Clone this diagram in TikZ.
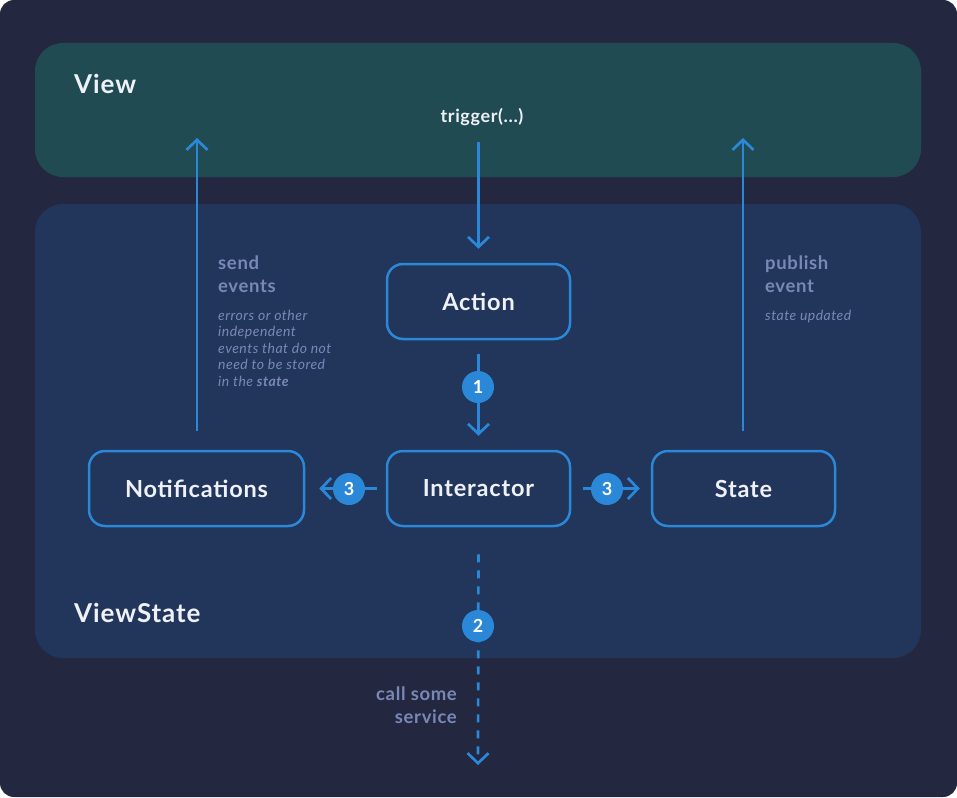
\documentclass[tikz,border=0pt]{standalone}
\usepackage{fontspec}
\setmainfont{Lato}[LetterSpace=3.5]
\usetikzlibrary{arrows.meta}
\definecolor{outerbg}{HTML}{232840}
\definecolor{viewbg}{HTML}{214B52}
\definecolor{vsbg}{HTML}{22355A}
\definecolor{accent}{HTML}{2B88D8}
\definecolor{txt}{HTML}{EEF1F8}
\definecolor{muted}{HTML}{7A88B8}
\tikzset{
  box/.style={draw=accent, line width=2.5pt, fill=vsbg, rounded corners=16pt,
    minimum width=183pt, minimum height=75pt, text=txt,
    font=\fontsize{23.5}{26}\selectfont\bfseries},
  badge/.style={circle, fill=accent, minimum size=32pt, inner sep=0pt, text=white,
    font=\fontsize{18}{20}\selectfont\bfseries},
  flow/.style={draw=accent, line width=2.7pt, -{Straight Barb[length=10pt,width=21pt]}},
  title/.style={anchor=base west, inner sep=0pt, text=txt, font=\fontsize{26}{28}\selectfont\bfseries},
  lbl/.style={anchor=base west, inner sep=0pt, text=muted, font=\fontsize{18.5}{20}\selectfont\bfseries},
  note/.style={anchor=base west, inner sep=0pt, text=muted, font=\fontsize{14}{16}\selectfont\itshape},
}
\begin{document}
\begin{tikzpicture}[x=1pt,y=-1pt]
\useasboundingbox (0,0) rectangle (957,797);
\fill[white] (0,0) rectangle (957,797);
\fill[outerbg, rounded corners=14pt] (0,0) rectangle (957,797);
\fill[viewbg, rounded corners=28pt] (35,43) rectangle (921,177);
\fill[vsbg, rounded corners=28pt] (35,204) rectangle (921,658);

\node[title] (viewt) at (74,94) {View};
\node[title] (vst) at (74,622) {ViewState};
\node[anchor=base, inner sep=0pt, text=txt, font=\fontsize{18}{19}\selectfont\bfseries] (trig) at (482,122) {trigger(...)};

\node[box] (action) at (478.5,301.5) {Action};
\node[box] (inter) at (478.5,488.5) {Interactor};
\node[box, minimum width=215pt] (notif) at (196.5,488.5) {Notifications};
\node[box] (state) at (743.5,488.5) {State};

\coordinate (viewN) at (197,138);
\coordinate (viewS) at (743,138);
\coordinate (svc) at (478,765);

% arrows
\draw[flow, shorten <=17pt, shorten >=14pt] (trig.south -| action.north) -- (action.north);
\draw[flow, shorten <=14pt, shorten >=14pt] (action.south) -- (inter.north);
\draw[flow, shorten <=9pt, shorten >=14pt] (inter.west) -- (notif.east);
\draw[flow, shorten <=12pt, shorten >=11pt] (inter.east) -- (state.west);
\draw[flow, shorten <=19pt] (notif.north -| viewN) -- (viewN);
\draw[flow, shorten <=19pt] (state.north -| viewS) -- (viewS);
\draw[flow, dash pattern=on 8pt off 8pt, shorten <=27pt] (inter.south) -- (svc);

\node[badge] (b1) at (478,387) {1};
\node[badge] (b3l) at (349,489) {3};
\node[badge] (b3r) at (607,489) {3};
\node[badge] (b2) at (478,626) {2};

% labels
\node[lbl] (se1) at (218,269) {send};
\node[lbl] (se2) at (218,292) {events};
\node[note] (n1) at (218,320) {errors or other};
\node[note] (n2) at (218,336.5) {independent};
\node[note] (n3) at (218,353) {events that do not};
\node[note] (n4) at (218,369.5) {need to be stored};
\node[note] (n5) at (218,386) {in the \textbf{state}};

\node[lbl] (pe1) at (765,269) {publish};
\node[lbl] (pe2) at (765,292) {event};
\node[note] (su) at (765,320) {state updated};

\node[lbl, anchor=base east] (cs1) at (457,700) {call some};
\node[lbl, anchor=base east] (cs2) at (457,723) {service};
\end{tikzpicture}
\end{document}
